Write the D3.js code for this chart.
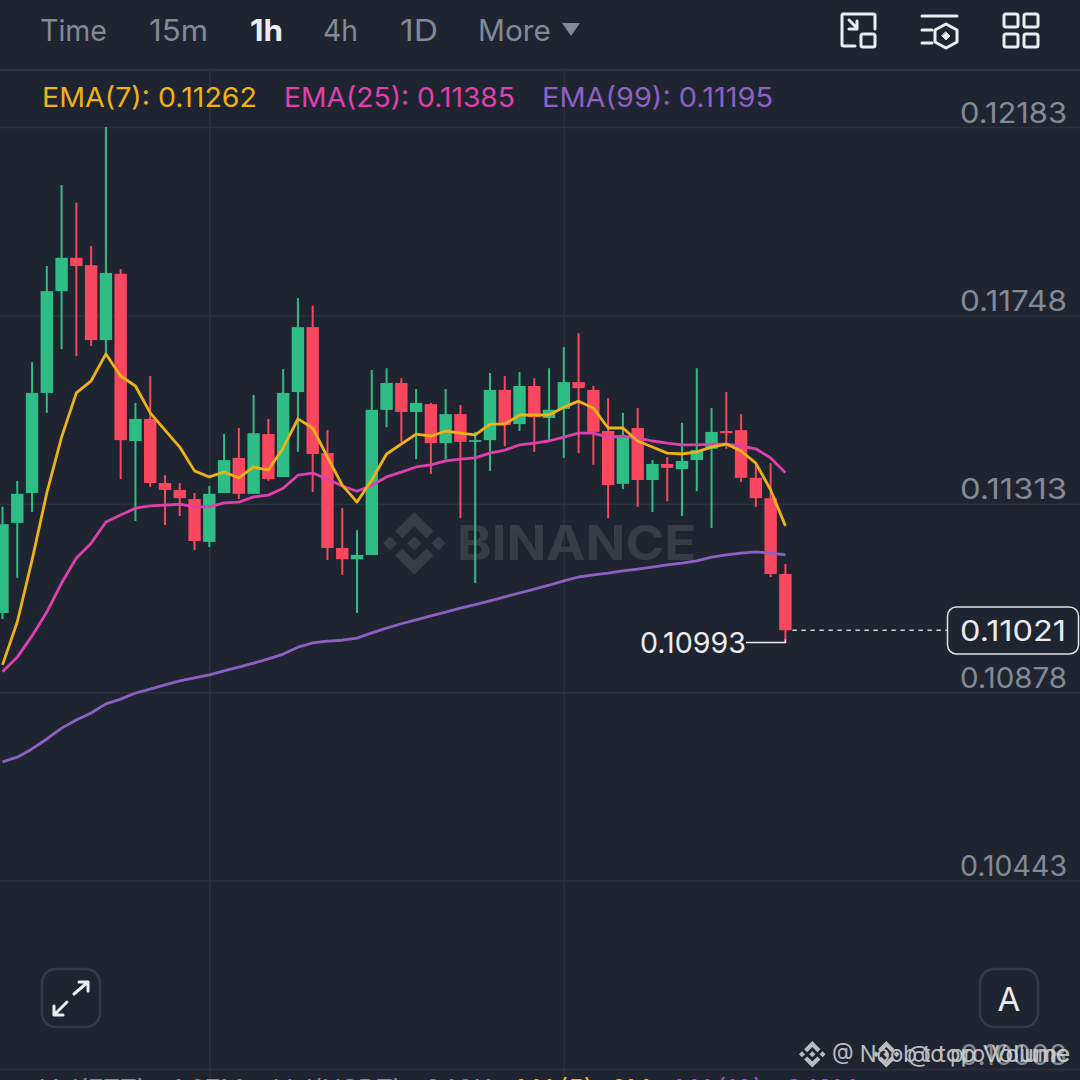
<!DOCTYPE html>
<html>
<head>
<meta charset="utf-8">
<script src="https://cdn.jsdelivr.net/npm/d3@7/dist/d3.min.js"></script>
<style>
html,body{margin:0;padding:0;background:#1f2530;overflow:hidden}
svg{display:block}
text{font-family:Inter,"Open Sans",sans-serif}
</style>
</head>
<body>
<svg id="c" width="1080" height="1080"></svg>
<script>
const tabs = ["Time","15m","1h","4h","1D","More"];
const activeTab = "1h";
const tickLabels = [0.12183,0.11748,0.11313,0.10878,0.10443,0.10008];
const verticalGridCandles = [14,38];
const lastPrice = 0.11021;
const lowLabel = 0.10993;
const legendNames = ["EMA(7)","EMA(25)","EMA(99)"];
const legendValues = [0.11262,0.11385,0.11195];
const volumeLabels = ["Vol(FTT):","1.07M","Vol(USDT):","240K","MA(5):","2M","MA(10):","3.12M"];

const opens = [.11061,.11269,.11338,.11569,.11804,.11881,.11864,.11691,.11844,.11458,.11509,.11361,.11345,.11324,.11225,.11338,.11419,.11336,.11474,.11375,.11571,.11721,.11430,.11211,.11185,.11195,.11530,.11592,.11525,.11543,.11453,.11520,.11456,.11460,.11576,.11497,.11585,.11511,.11532,.11594,.11576,.11481,.11359,.11488,.11368,.11405,.11393,.11414,.11440,.11481,.11483,.11373,.11326,.11151];
const highs = [.11306,.11366,.11640,.11862,.12049,.12008,.11908,.12183,.11855,.11546,.11608,.11379,.11361,.11338,.11354,.11474,.11488,.11564,.11509,.11624,.11788,.11770,.11483,.11303,.11252,.11622,.11626,.11603,.11578,.11546,.11578,.11541,.11479,.11615,.11608,.11617,.11603,.11626,.11675,.11707,.11585,.11557,.11523,.11534,.11414,.11421,.11500,.11626,.11534,.11571,.11520,.11405,.11407,.11174];
const lows = [.11047,.11142,.11294,.11523,.11670,.11654,.11677,.11661,.11370,.11273,.11352,.11264,.11285,.11206,.11213,.11338,.11324,.11336,.11366,.11375,.11433,.11340,.11183,.11149,.11061,.11195,.11490,.11456,.11416,.11382,.11416,.11280,.11130,.11389,.11446,.11481,.11433,.11460,.11419,.11430,.11403,.11280,.11347,.11306,.11294,.11319,.11285,.11342,.11257,.11440,.11363,.11306,.11144,.10993];
const closes = [.11266,.11336,.11569,.11804,.11881,.11862,.11691,.11846,.11460,.11509,.11361,.11345,.11326,.11227,.11336,.11414,.11336,.11476,.11370,.11569,.11721,.11428,.11211,.11185,.11195,.11530,.11592,.11525,.11546,.11453,.11520,.11456,.11460,.11576,.11495,.11585,.11513,.11530,.11594,.11580,.11479,.11356,.11467,.11368,.11405,.11396,.11412,.11437,.11479,.11476,.11373,.11326,.11151,.11021];

const ema7 = [.10941,.11040,.11183,.11338,.11467,.11569,.11597,.11659,.11608,.11585,.11523,.11483,.11444,.11389,.11375,.11386,.11373,.11398,.11391,.11442,.11509,.11488,.11421,.11356,.11317,.11368,.11428,.11451,.11474,.11469,.11481,.11476,.11472,.11497,.11497,.11518,.11518,.11518,.11536,.11550,.11534,.11488,.11488,.11458,.11444,.11430,.11428,.11433,.11444,.11451,.11435,.11407,.11345,.11262];
const ema25 = [.10925,.10959,.11008,.11063,.11130,.11188,.11222,.11271,.11287,.11303,.11308,.11310,.11312,.11306,.11306,.11315,.11317,.11329,.11333,.11349,.11379,.11384,.11370,.11354,.11342,.11356,.11375,.11386,.11398,.11403,.11412,.11416,.11419,.11430,.11437,.11449,.11453,.11458,.11467,.11476,.11476,.11467,.11469,.11465,.11458,.11453,.11449,.11449,.11451,.11451,.11446,.11440,.11419,.11385];
const ema99 = [.10717,.10728,.10747,.10770,.10795,.10814,.10830,.10851,.10862,.10876,.10885,.10895,.10904,.10911,.10918,.10927,.10936,.10945,.10955,.10966,.10982,.10992,.10996,.10998,.11003,.11015,.11026,.11036,.11045,.11054,.11063,.11072,.11080,.11089,.11098,.11107,.11116,.11125,.11135,.11144,.11149,.11153,.11158,.11162,.11167,.11172,.11176,.11181,.11190,.11195,.11199,.11202,.11199,.11195];

const BG="#1f2530", GRID="#2c323d", MUTED="#838a95", WHITE="#eaecef";
const UP="#2ebd85", DOWN="#f8475f";
const LINE_COLORS=["#eeb215","#e040ae","#8f60c4"];
const svg=d3.select("#c");
const x=d3.scaleLinear().domain([0,opens.length-1]).range([2.5,785.4]);
const y=d3.scaleLinear().domain([tickLabels[0],tickLabels[5]]).range([127,1069]);
const BODY_W=12.4;
const fit=(sel,w)=>sel.attr("textLength",w).attr("lengthAdjust","spacingAndGlyphs");

// horizontal grid and price ticks
const yAxis=d3.axisLeft(y).tickValues(tickLabels).tickFormat(d3.format(".5f")).tickSize(1080);
const gy=svg.append("g").attr("transform","translate(1080,0)").call(yAxis);
gy.select(".domain").remove();
gy.selectAll("line").attr("stroke",GRID).attr("stroke-width",1.5);
fit(gy.selectAll("text").attr("x",-13).attr("dy",-5).attr("text-anchor","end")
  .attr("fill",MUTED).attr("font-size",28).style("font-family","Inter,sans-serif"),107);
// vertical grid
const xAxis=d3.axisBottom(x).tickValues(verticalGridCandles).tickFormat("").tickSize(1010);
const gx=svg.append("g").attr("transform","translate(0,70)").call(xAxis);
gx.select(".domain").remove();
gx.selectAll("line").attr("stroke",GRID).attr("stroke-width",1.5);

// header rule
svg.append("line").attr("x1",0).attr("x2",1080).attr("y1",70).attr("y2",70).attr("stroke",GRID).attr("stroke-width",2.5);

// tabs
const tabX=[40,149,250,323,400,478];
const tabW=[67,59,33,35,38,73];
fit(svg.append("g").selectAll("text").data(tabs).join("text")
  .attr("x",(d,i)=>tabX[i]).attr("y",41).attr("font-size",29.5)
  .attr("font-weight",d=>d===activeTab?700:400)
  .attr("fill",d=>d===activeTab?WHITE:MUTED).text(d=>d),(d,i)=>tabW[i]);
svg.append("path").attr("d","M562 23H580L571 36Z").attr("fill",MUTED);

// icons
const icons=svg.append("g").attr("fill","none").attr("stroke",WHITE).attr("stroke-width",3).attr("stroke-linecap","round").attr("stroke-linejoin","round");
icons.append("path").attr("d","M875 29V15Q875 14 873 14H843Q842 14 842 16V45Q842 46 844 46H855");
icons.append("rect").attr("x",861).attr("y",34).attr("width",14).attr("height",13).attr("rx",2);
icons.append("path").attr("d","M849 20L857 28M857 21V29H849");
icons.append("path").attr("d","M922 16H957M922 30H932M922 43H932");
icons.append("path").attr("d","M946 24L957 30V42L946 48L935 42V30Z");
icons.append("path").attr("d","M946 32L950 36L946 40L942 36Z").attr("fill",WHITE).attr("stroke-width",1);
[[1003,13],[1023,13],[1003,33],[1023,33]].forEach(p=>icons.append("rect").attr("x",p[0]+1).attr("y",p[1]+1).attr("width",14).attr("height",13).attr("rx",2));

// legend
const legX=[42,284,542];
const legW=[215,231,231];
fit(svg.append("g").selectAll("text").data(legendNames).join("text")
  .attr("x",(d,i)=>legX[i]).attr("y",107).attr("font-size",27)
  .attr("fill",(d,i)=>LINE_COLORS[i]).text((d,i)=>d+": "+legendValues[i].toFixed(5)),(d,i)=>legW[i]);

// Binance watermark
const LOGO="M38.73 53.2L63.3 28.63l24.58 24.58 14.3-14.3L63.3 0 24.43 38.9zM0 63.31l14.3-14.3 14.3 14.3-14.3 14.3zM38.73 73.41L63.3 97.98l24.58-24.58 14.3 14.29-38.88 38.91-38.87-38.88-.02-.01zM97.99 63.31l14.3-14.3 14.3 14.3-14.3 14.3zM77.83 63.3L63.3 48.76 52.56 59.5l-1.24 1.23-2.54 2.55 14.52 14.5L77.83 63.3z";
svg.append("path").attr("d",LOGO).attr("fill","#373d47").attr("transform","translate(383,512) scale(0.495)");
svg.append("text").attr("x",457).attr("y",560).attr("font-size",48).attr("font-weight",700)
  .attr("fill","#373d47").attr("textLength",239).attr("lengthAdjust","spacingAndGlyphs").text("BINANCE");

// candles
const idx=d3.range(opens.length);
const candles=svg.append("g");
candles.selectAll("line").data(idx).join("line")
  .attr("x1",i=>x(i)).attr("x2",i=>x(i))
  .attr("y1",i=>y(highs[i])).attr("y2",i=>y(lows[i]))
  .attr("stroke",i=>closes[i]>=opens[i]?UP:DOWN).attr("stroke-width",2);
candles.selectAll("rect").data(idx).join("rect")
  .attr("x",i=>x(i)-BODY_W/2).attr("width",BODY_W)
  .attr("y",i=>y(Math.max(opens[i],closes[i])))
  .attr("height",i=>Math.max(1.5,Math.abs(y(opens[i])-y(closes[i]))))
  .attr("fill",i=>closes[i]>=opens[i]?UP:DOWN);

// EMA lines
const lineGen=d3.line().x((d,i)=>x(i)).y(d=>y(d));
[ema99,ema25,ema7].forEach((s,k)=>{
  svg.append("path").attr("d",lineGen(s)).attr("fill","none")
    .attr("stroke",LINE_COLORS[2-k]).attr("stroke-width",2.8).attr("stroke-linejoin","round");
});

// last price marker
const lastY=y(lastPrice), lowY=y(lowLabel), lastX=x(opens.length-1);
svg.append("line").attr("x1",lastX+7).attr("x2",947).attr("y1",lastY).attr("y2",lastY)
  .attr("stroke","#c9ccd1").attr("stroke-width",1.5).attr("stroke-dasharray","4.5 4.5");
svg.append("rect").attr("x",947.5).attr("y",607).attr("width",131).attr("height",47).attr("rx",9)
  .attr("fill",BG).attr("stroke","#dfe1e5").attr("stroke-width",1.5);
fit(svg.append("text").attr("x",960).attr("y",641).attr("font-size",28)
  .attr("fill",WHITE).text(lastPrice.toFixed(5)),106);
svg.append("path").attr("d",`M746 ${lowY}H${lastX}V${lowY-3}`).attr("fill","none").attr("stroke","#eaecef").attr("stroke-width",1.5);
fit(svg.append("text").attr("x",640).attr("y",653).attr("font-size",28)
  .attr("fill",WHITE).text(lowLabel.toFixed(5)),106);

// corner buttons
const btn=svg.append("g").attr("fill","none").attr("stroke","#353c47").attr("stroke-width",2.5);
btn.append("rect").attr("x",42).attr("y",969).attr("width",58).attr("height",58).attr("rx",14);
btn.append("rect").attr("x",980).attr("y",969).attr("width",58).attr("height",58).attr("rx",14);
svg.append("path").attr("d","M74 994L88 982M79 982H88V991M67 1002L54 1015M54 1006V1015H63")
  .attr("fill","none").attr("stroke",WHITE).attr("stroke-width",3).attr("stroke-linecap","round").attr("stroke-linejoin","round");
svg.append("text").attr("x",1009).attr("y",1011).attr("text-anchor","middle").attr("font-size",33).attr("fill",WHITE).text("A");

// volume row, clipped by the bottom of the frame
const volX=[40,172,274,425,517,611,675,786];
const volC=[MUTED,MUTED,MUTED,MUTED,LINE_COLORS[0],LINE_COLORS[0],LINE_COLORS[2],LINE_COLORS[2]];
svg.append("g").selectAll("text").data(volumeLabels).join("text")
  .attr("x",(d,i)=>volX[i]).attr("y",1098).attr("font-size",26).attr("fill",(d,i)=>volC[i]).text(d=>d);

// overlaid site watermarks
const wm=svg.append("g").attr("fill","#d6d8db").attr("opacity",.85);
[[799,"@ Noob to pro Volume",238,832],[873,"@ top Volume",163,907]].forEach(w=>{
  wm.append("path").attr("d",LOGO).attr("transform",`translate(${w[0]},1041) scale(0.21)`);
  wm.append("text").attr("x",w[3]).attr("y",1062).attr("font-size",23).attr("textLength",w[2]).attr("lengthAdjust","spacingAndGlyphs").text(w[1]);
});
</script>
</body>
</html>
